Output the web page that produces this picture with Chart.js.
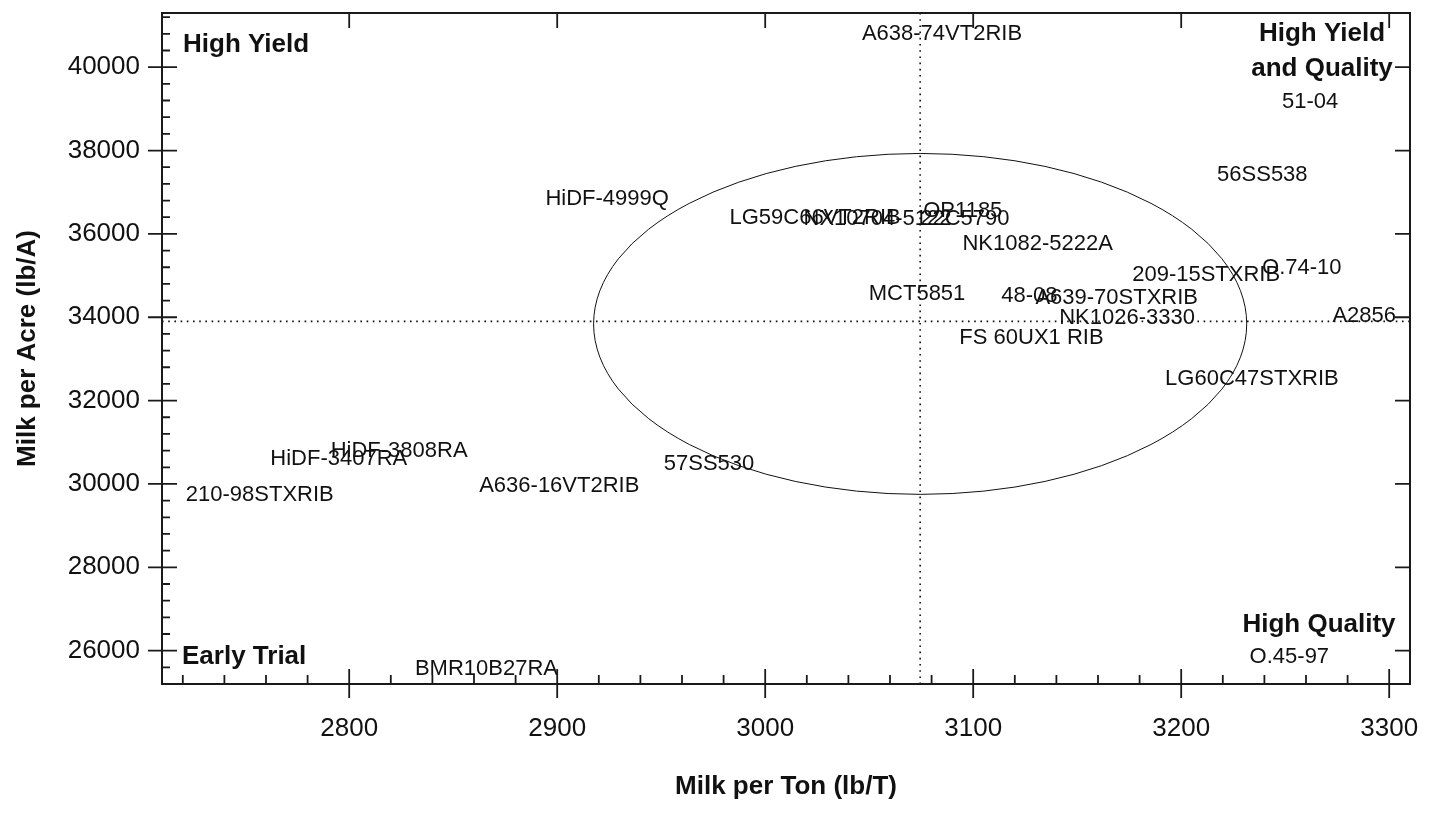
<!DOCTYPE html>
<html>
<head>
<meta charset="utf-8">
<title>Milk per Ton vs Milk per Acre</title>
<script src="https://cdn.jsdelivr.net/npm/chart.js@4.4.1/dist/chart.umd.min.js"></script>
<style>
  html, body { margin: 0; padding: 0; background: #fff; }
</style>
</head>
<body>
<canvas id="milk-chart" width="1439" height="816"></canvas>
<script>
// hybrid names
const hybrids = [
    'A638-74VT2RIB', '51-04', '56SS538', 'HiDF-4999Q', 'LG59C66VT2RIB',
    'NX10704-5122', 'OP1185', '22C5790', 'NK1082-5222A', 'MCT5851',
    '48-08', 'A639-70STXRIB', 'NK1026-3330', 'FS 60UX1 RIB', '209-15STXRIB',
    'O.74-10', 'A2856', 'LG60C47STXRIB', '57SS530', 'A636-16VT2RIB',
    'HiDF-3808RA', 'HiDF-3407RA', '210-98STXRIB', 'BMR10B27RA', 'O.45-97'
];
// Milk per Ton (lb/T)
const milkPerTon = [
    3085, 3262, 3239, 2924, 3024,
    3054, 3095, 3096, 3131, 3073,
    3127, 3169, 3174, 3128, 3212,
    3258, 3288, 3234, 2973, 2901,
    2824, 2795, 2757, 2866, 3252
];
// Milk per Acre (lb/A)
const milkPerAcre = [
    40800, 39160, 37420, 36830, 36380,
    36370, 36560, 36370, 35750, 34560,
    34500, 34460, 33980, 33500, 35010,
    35180, 34040, 32520, 30480, 29960,
    30800, 30590, 29740, 25550, 25840
];

// trial means (dotted lines) and the ellipse
const meanTon = 3074.5;
const meanAcre = 33900;
const ellipseCenterAcre = 33840;
const spreadTon = 157;
const spreadAcre = 4090;

const tonRange = [2710, 3310];
const acreRange = [25200, 41300];
const tonTicks = [2800, 2900, 3000, 3100, 3200, 3300];
const acreTicks = [26000, 28000, 30000, 32000, 34000, 36000, 38000, 40000];
const tonMinor = 20;
const acreMinor = 400;

const FONT = '"Liberation Sans", Arial, Helvetica, sans-serif';

// dotted crosshair + ellipse under the labels
const backdrop = {
    id: 'backdrop',
    beforeDatasetsDraw(chart) {
        const { ctx, chartArea: a, scales: { x, y } } = chart;
        const mx = x.getPixelForValue(meanTon);
        const my = y.getPixelForValue(meanAcre);
        ctx.save();
        ctx.strokeStyle = '#111';
        ctx.lineWidth = 1.6;
        ctx.setLineDash([1.6, 4.6]);
        ctx.beginPath();
        ctx.moveTo(mx, a.top);
        ctx.lineTo(mx, a.bottom);
        ctx.moveTo(a.left, my);
        ctx.lineTo(a.right, my);
        ctx.stroke();
        ctx.setLineDash([]);

        const ey = y.getPixelForValue(ellipseCenterAcre);
        const rx = x.getPixelForValue(meanTon + spreadTon) - mx;
        const ry = ey - y.getPixelForValue(ellipseCenterAcre + spreadAcre);
        ctx.lineWidth = 1;
        ctx.beginPath();
        ctx.ellipse(mx, ey, rx, ry, 0, 0, Math.PI * 2);
        ctx.stroke();
        ctx.restore();
    }
};

// hybrid names drawn at each point
const pointNames = {
    id: 'pointNames',
    afterDatasetsDraw(chart) {
        const { ctx } = chart;
        const meta = chart.getDatasetMeta(0);
        ctx.save();
        ctx.font = '22px ' + FONT;
        ctx.fillStyle = '#111';
        ctx.textAlign = 'center';
        ctx.textBaseline = 'middle';
        meta.data.forEach((pt, i) => {
            ctx.fillText(hybrids[i], pt.x, pt.y);
        });
        ctx.restore();
    }
};

// box, tick marks, quadrant names
const frame = {
    id: 'frame',
    afterDraw(chart) {
        const { ctx, chartArea: a, scales: { x, y } } = chart;
        ctx.save();
        ctx.strokeStyle = '#1a1a1a';
        ctx.lineWidth = 2;
        ctx.strokeRect(a.left, a.top, a.right - a.left, a.bottom - a.top);

        ctx.lineWidth = 1.8;
        ctx.beginPath();
        // minor ticks, inside only on left and bottom
        for (let v = Math.ceil(tonRange[0] / tonMinor) * tonMinor; v <= tonRange[1]; v += tonMinor) {
            const px = x.getPixelForValue(v);
            ctx.moveTo(px, a.bottom); ctx.lineTo(px, a.bottom - 9);
        }
        for (let v = Math.ceil(acreRange[0] / acreMinor) * acreMinor; v <= acreRange[1]; v += acreMinor) {
            const py = y.getPixelForValue(v);
            ctx.moveTo(a.left, py); ctx.lineTo(a.left + 8, py);
        }
        // major ticks
        tonTicks.forEach(v => {
            const px = x.getPixelForValue(v);
            ctx.moveTo(px, a.bottom + 14); ctx.lineTo(px, a.bottom - 15);
            ctx.moveTo(px, a.top); ctx.lineTo(px, a.top + 15);
        });
        acreTicks.forEach(v => {
            const py = y.getPixelForValue(v);
            ctx.moveTo(a.left - 14, py); ctx.lineTo(a.left + 15, py);
            ctx.moveTo(a.right, py); ctx.lineTo(a.right - 15, py);
        });
        ctx.stroke();

        ctx.fillStyle = '#111';
        ctx.font = 'bold 26px ' + FONT;
        ctx.textBaseline = 'middle';
        ctx.textAlign = 'left';
        ctx.fillText('High Yield', a.left + 21, a.top + 32);
        ctx.fillText('Early Trial', a.left + 20, a.bottom - 27);
        ctx.textAlign = 'center';
        ctx.fillText('High Yield', a.right - 88, a.top + 21);
        ctx.fillText('and Quality', a.right - 88, a.top + 56);
        ctx.fillText('High Quality', a.right - 91, a.bottom - 59);
        ctx.restore();
    }
};

const points = milkPerTon.map((t, i) => ({ x: t, y: milkPerAcre[i] }));

new Chart(document.getElementById('milk-chart').getContext('2d'), {
    type: 'scatter',
    data: {
        datasets: [{
            label: 'Hybrids',
            data: points,
            pointRadius: 0,
            pointHoverRadius: 0,
        }]
    },
    options: {
        responsive: false,
        animation: false,
        events: [],
        layout: {
            padding: { top: 13, right: 29, left: 0, bottom: 0 }
        },
        plugins: {
            legend: { display: false },
            tooltip: { enabled: false },
        },
        scales: {
            x: {
                type: 'linear',
                min: tonRange[0],
                max: tonRange[1],
                border: { display: false },
                grid: { display: false, drawTicks: false },
                ticks: {
                    padding: 29,
                    color: '#111',
                    font: { family: FONT, size: 26 },
                    callback: (v) => String(v),
                },
                afterBuildTicks: (scale) => { scale.ticks = tonTicks.map(v => ({ value: v })); },
                title: {
                    display: true,
                    text: 'Milk per Ton (lb/T)',
                    color: '#111',
                    font: { family: FONT, size: 26, weight: 'bold' },
                    padding: { top: 0, bottom: 14 },
                },
                afterFit: (scale) => {
                    scale.height = 132;
                    scale.paddingLeft = 0;
                    scale.paddingRight = 0;
                },
            },
            y: {
                type: 'linear',
                min: acreRange[0],
                max: acreRange[1],
                border: { display: false },
                grid: { display: false, drawTicks: false },
                ticks: {
                    padding: 22,
                    color: '#111',
                    font: { family: FONT, size: 26 },
                    callback: (v) => String(v),
                },
                afterBuildTicks: (scale) => { scale.ticks = acreTicks.map(v => ({ value: v })); },
                title: {
                    display: true,
                    text: 'Milk per Acre (lb/A)',
                    color: '#111',
                    font: { family: FONT, size: 26, weight: 'bold' },
                    padding: { top: 12, bottom: 0 },
                },
                afterFit: (scale) => {
                    scale.width = 162;
                    scale.paddingTop = 0;
                    scale.paddingBottom = 0;
                },
            }
        }
    },
    plugins: [backdrop, pointNames, frame]
});
</script>
</body>
</html>
